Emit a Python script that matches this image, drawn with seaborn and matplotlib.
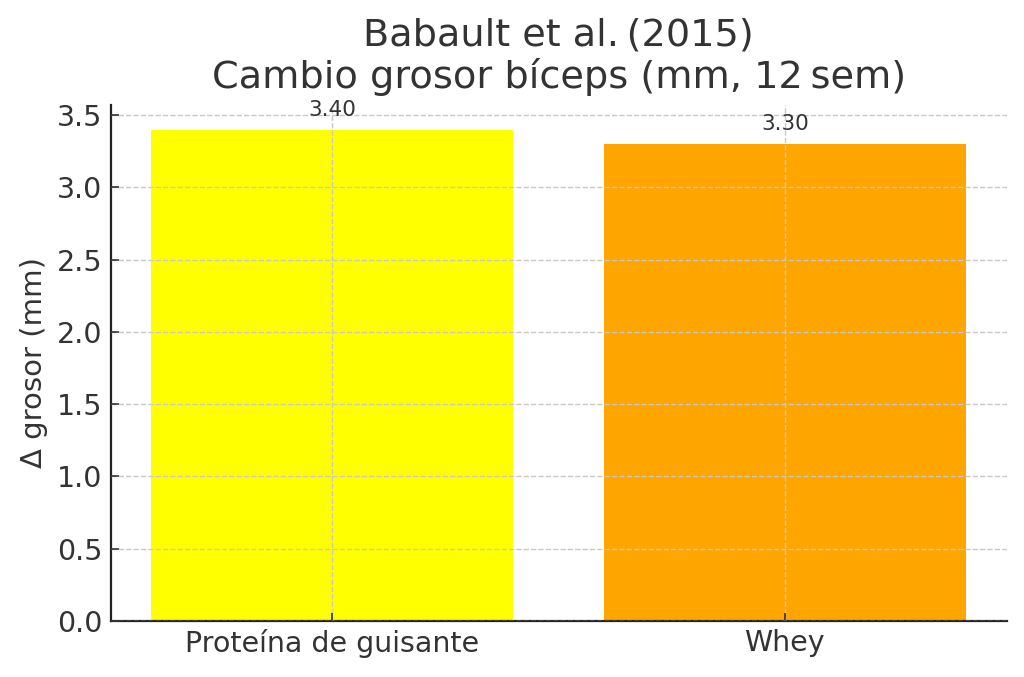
import matplotlib.pyplot as plt
import seaborn as sns
import pandas as pd

# values
groups = ['Proteína de guisante', 'Whey']
cambio = [3.40, 3.30]
colores = ['#FFFF00', '#FFA500']

df = pd.DataFrame({'grupo': groups, 'cambio': cambio})

plt.rcParams['font.family'] = ['DejaVu Sans']
plt.rcParams['text.color'] = '#333333'
plt.rcParams['axes.labelcolor'] = '#333333'
plt.rcParams['xtick.color'] = '#333333'
plt.rcParams['ytick.color'] = '#333333'

fig, ax = plt.subplots(figsize=(10.24, 6.77), dpi=100)
fig.subplots_adjust(left=0.108, right=0.983, bottom=0.083, top=0.845)

sns.barplot(data=df, x='grupo', y='cambio', hue='grupo', palette=colores,
            legend=False, width=0.8, saturation=1, ax=ax)

for i, v in enumerate(cambio):
    ax.annotate(f'{v:.2f}', (i, v), xytext=(0, 7), textcoords='offset points',
                ha='center', va='bottom', fontsize=15.5, color='#333333')

ax.set_title('Babault et al.\u2009(2015)\nCambio grosor bíceps (mm, 12\u2009sem)',
             fontsize=27.5, color='#333333', pad=12, linespacing=1.15)
ax.set_xlabel('')
ax.set_ylabel('Δ grosor (mm)', fontsize=21, labelpad=6)
ax.set_ylim(0, 3.4 * 1.05)
ax.set_xlim(-0.49, 1.49)

ax.grid(True, linestyle='--', color='#c8c8c8', linewidth=1)
ax.set_axisbelow(False)
ax.tick_params(axis='both', direction='in', labelsize=20.5, length=6, width=1.2, pad=6)
ax.spines['top'].set_visible(False)
ax.spines['right'].set_visible(False)
ax.spines['left'].set_linewidth(1.6)
ax.spines['bottom'].set_linewidth(1.6)
ax.spines['left'].set_color('#222222')
ax.spines['bottom'].set_color('#222222')

fig.savefig('out.png', dpi=100)
